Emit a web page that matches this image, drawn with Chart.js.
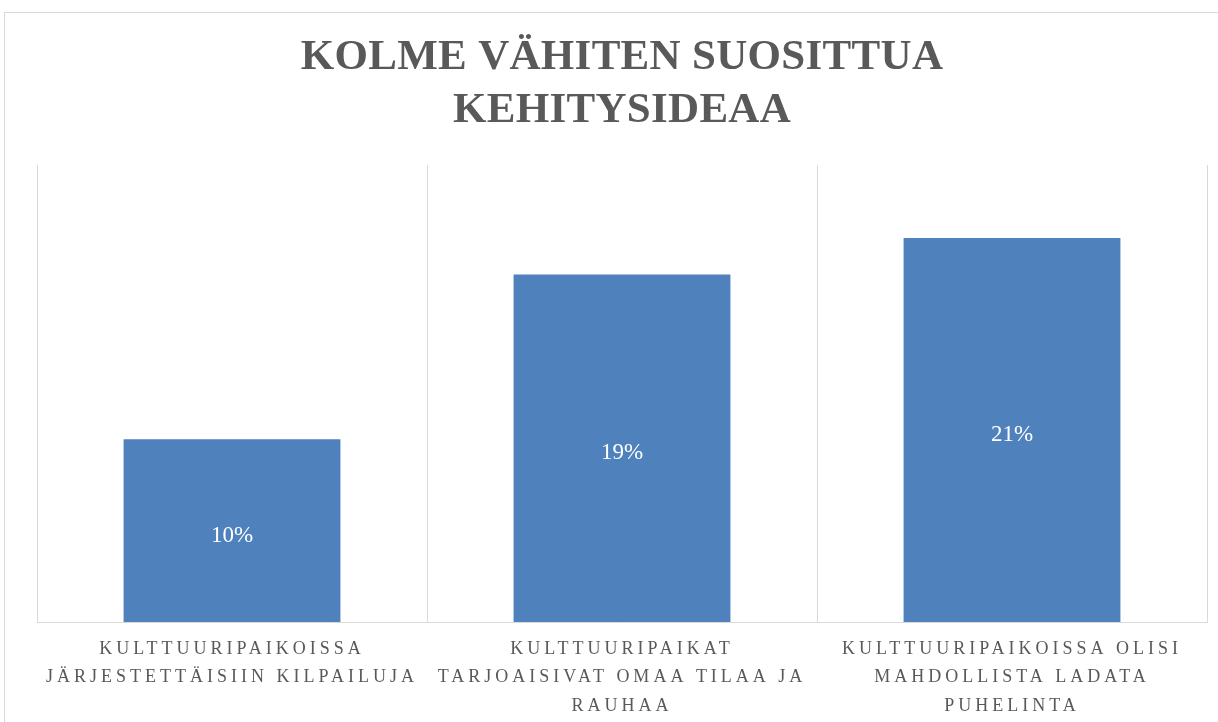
<!DOCTYPE html>
<html>
<head>
<meta charset="utf-8">
<script src="https://cdn.jsdelivr.net/npm/chart.js@4/dist/chart.umd.min.js"></script>
<style>
  html, body { margin: 0; padding: 0; background: #fff; overflow: hidden; }
  #frame { position: absolute; left: 4px; top: 12px; width: 1230px; height: 730px; border: 1px solid #d9d9d9; }
  #chart { position: absolute; left: 0; top: 0; }
</style>
</head>
<body>
<div id="frame"></div>
<canvas id="chart" width="1218" height="722"></canvas>
<script>
// Data
const categories = [
    ['KULTTUURIPAIKOISSA', 'JÄRJESTETTÄISIIN KILPAILUJA'],
    ['KULTTUURIPAIKAT', 'TARJOAISIVAT OMAA TILAA JA', 'RAUHAA'],
    ['KULTTUURIPAIKOISSA OLISI', 'MAHDOLLISTA LADATA', 'PUHELINTA']
];
const shares = [0.10, 0.19, 0.21];
const titleLines = ['KOLME VÄHITEN SUOSITTUA', 'KEHITYSIDEAA'];

const GREY = '#595959';
const BLUE = '#4F81BD';
const SERIF = "'Liberation Serif', 'DejaVu Serif', serif";

// Letter spacing par couche + étiquettes de valeur
const spacingPlugin = {
    id: 'spacing',
    beforeDraw(chart) {
        chart.ctx.letterSpacing = '0.3px';
    },
    afterDatasetsDraw(chart) {
        const ctx = chart.ctx;
        ctx.save();
        ctx.letterSpacing = '0px';
        ctx.font = '23px ' + SERIF;
        ctx.fillStyle = '#ffffff';
        ctx.textAlign = 'center';
        ctx.textBaseline = 'middle';
        chart.getDatasetMeta(0).data.forEach((bar, i) => {
            const y = (bar.y + bar.base) / 2 + 5;
            ctx.fillText(Math.round(shares[i] * 100) + '%', bar.x, y);
        });
        ctx.restore();
        ctx.letterSpacing = '4px';
    }
};

new Chart(document.getElementById('chart'), {
    type: 'bar',
    data: {
        labels: categories,
        datasets: [{
            data: shares,
            backgroundColor: BLUE,
            borderWidth: 0,
            categoryPercentage: 1,
            barPercentage: 0.556
        }]
    },
    options: {
        responsive: false,
        animation: false,
        layout: { padding: { left: 37, right: 11, top: 0, bottom: 0 } },
        plugins: {
            legend: { display: false },
            tooltip: { enabled: false },
            title: {
                display: true,
                text: titleLines,
                color: GREY,
                font: { family: SERIF, size: 43, weight: 'bold', lineHeight: 1.22 },
                padding: { top: 32, bottom: 28 }
            }
        },
        scales: {
            y: {
                display: false,
                min: 0,
                max: 0.25
            },
            x: {
                afterFit(scale) { scale.height = 100; },
                grid: {
                    color: '#d9d9d9',
                    lineWidth: 1,
                    drawTicks: false,
                    offset: true
                },
                border: { color: '#d9d9d9', width: 1 },
                ticks: {
                    z: 1,
                    color: GREY,
                    padding: 13,
                    autoSkip: false,
                    maxRotation: 0,
                    minRotation: 0,
                    font: { family: SERIF, size: 18, lineHeight: 1.58 }
                }
            }
        }
    },
    plugins: [spacingPlugin]
});
</script>
</body>
</html>
